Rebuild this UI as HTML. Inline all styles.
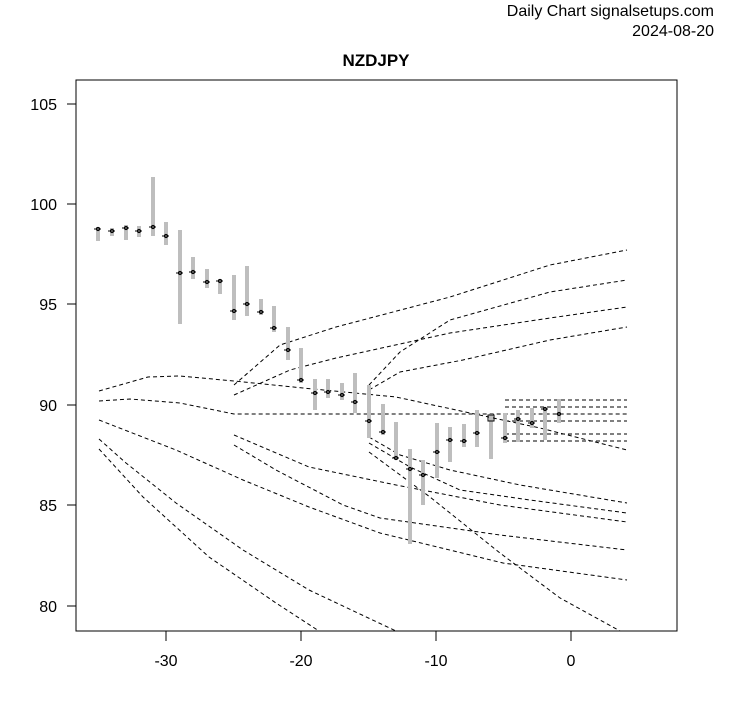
<!DOCTYPE html>
<html><head><meta charset="utf-8"><style>
html,body{margin:0;padding:0;background:#fff;}
svg{display:block;font-family:"Liberation Sans",Arial,sans-serif;}
</style></head><body>
<svg width="753" height="708" viewBox="0 0 753 708" xmlns="http://www.w3.org/2000/svg">
<rect width="753" height="708" fill="#fff"/>
<text x="714" y="16" font-size="16" text-anchor="end">Daily Chart signalsetups.com</text>
<text x="714" y="36" font-size="16" text-anchor="end">2024-08-20</text>
<text x="376" y="66" font-size="17" font-weight="bold" text-anchor="middle">NZDJPY</text>
<g fill="none" stroke="#000" stroke-width="1" stroke-dasharray="4,3">
<polyline points="99,391 148,377 180,376 234,381 303,388 396,397 470,413 540,428 627,450"/>
<polyline points="99,401 130,399 180,403 234,414 627,414"/>
<polyline points="99,420 176,450 243,480 309,507 380,533 503,563 627,580"/>
<polyline points="99,439 126,463 176,503 243,550 309,590 396,631"/>
<polyline points="99,449 143,497 209,557 276,603 319,631"/>
<polyline points="234,435 309,467 396,485 500,505 627,522"/>
<polyline points="234,445 276,470 343,505 380,518 500,535 627,550"/>
<polyline points="234,385 280,345 336,327 450,297 550,265 627,250"/>
<polyline points="234,395 290,370 336,358 450,333 550,318 627,307"/>
<polyline points="369,385 400,352 450,320 550,292 627,280"/>
<polyline points="369,390 400,372 463,360 550,340 627,327"/>
<polyline points="369,437 400,455 450,470 520,485 627,503"/>
<polyline points="369,443 410,467 460,490 530,500 627,513"/>
<polyline points="369,452 430,497 500,553 560,598 620,631"/>
<line x1="505" y1="400" x2="627" y2="400"/>
<line x1="505" y1="407" x2="627" y2="407"/>
<line x1="505" y1="421" x2="627" y2="421"/>
<line x1="505" y1="434" x2="627" y2="434"/>
<line x1="505" y1="441" x2="627" y2="441"/>
</g>
<g stroke="#bebebe" stroke-width="4">
<line x1="98" y1="227" x2="98" y2="241"/><line x1="112" y1="228" x2="112" y2="236"/>
<line x1="126" y1="225" x2="126" y2="240"/><line x1="139" y1="226" x2="139" y2="237"/>
<line x1="153" y1="177" x2="153" y2="236"/><line x1="166" y1="222" x2="166" y2="245"/>
<line x1="180" y1="230" x2="180" y2="324"/><line x1="193" y1="257" x2="193" y2="279"/>
<line x1="207" y1="269" x2="207" y2="288"/><line x1="220" y1="279" x2="220" y2="294"/>
<line x1="234" y1="275" x2="234" y2="320"/><line x1="247" y1="266" x2="247" y2="316"/>
<line x1="261" y1="299" x2="261" y2="315"/><line x1="274" y1="306" x2="274" y2="332"/>
<line x1="288" y1="327" x2="288" y2="360"/><line x1="301" y1="348" x2="301" y2="383"/>
<line x1="315" y1="379" x2="315" y2="410"/><line x1="328" y1="379" x2="328" y2="398"/>
<line x1="342" y1="383" x2="342" y2="400"/><line x1="355" y1="373" x2="355" y2="413"/>
<line x1="369" y1="385" x2="369" y2="438"/><line x1="383" y1="404" x2="383" y2="435"/>
<line x1="396" y1="422" x2="396" y2="460"/><line x1="410" y1="449" x2="410" y2="544"/>
<line x1="423" y1="460" x2="423" y2="505"/><line x1="437" y1="423" x2="437" y2="478"/>
<line x1="450" y1="427" x2="450" y2="462"/><line x1="464" y1="424" x2="464" y2="447"/>
<line x1="477" y1="410" x2="477" y2="447"/><line x1="491" y1="414" x2="491" y2="459"/>
<line x1="505" y1="413" x2="505" y2="443"/><line x1="518" y1="410" x2="518" y2="442"/>
<line x1="532" y1="408" x2="532" y2="428"/><line x1="545" y1="408" x2="545" y2="440"/>
<line x1="559" y1="399" x2="559" y2="423"/>
</g>
<g fill="none" stroke="#000" stroke-width="1">
<path d="M94,229h7M108,231h7M122,228h7M135,231h7M149,227h7M162,236h7M176,273h7M189,272h7M203,282h7M216,281h7M230,311h7M243,304h7M257,312h7M270,328h7M284,350h7M297,380h7M311,393h7M324,392h7M338,395h7M351,402h7M365,421h7M379,432h7M392,458h7M406,469h7M419,475h7M433,452h7M446,440h7M460,441h7M473,433h7M501,438h7M514,419h7M528,423h7M541,409h7M555,414h7"/>
<g stroke-width="1">
<circle cx="98" cy="229" r="1.6"/><circle cx="112" cy="231" r="1.6"/><circle cx="126" cy="228" r="1.6"/><circle cx="139" cy="231" r="1.6"/><circle cx="153" cy="227" r="1.6"/><circle cx="166" cy="236" r="1.6"/><circle cx="180" cy="273" r="1.6"/><circle cx="193" cy="272" r="1.6"/><circle cx="207" cy="282" r="1.6"/><circle cx="220" cy="281" r="1.6"/><circle cx="234" cy="311" r="1.6"/><circle cx="247" cy="304" r="1.6"/><circle cx="261" cy="312" r="1.6"/><circle cx="274" cy="328" r="1.6"/><circle cx="288" cy="350" r="1.6"/><circle cx="301" cy="380" r="1.6"/><circle cx="315" cy="393" r="1.6"/><circle cx="328" cy="392" r="1.6"/><circle cx="342" cy="395" r="1.6"/><circle cx="355" cy="402" r="1.6"/><circle cx="369" cy="421" r="1.6"/><circle cx="383" cy="432" r="1.6"/><circle cx="396" cy="458" r="1.6"/><circle cx="410" cy="469" r="1.6"/><circle cx="423" cy="475" r="1.6"/><circle cx="437" cy="452" r="1.6"/><circle cx="450" cy="440" r="1.6"/><circle cx="464" cy="441" r="1.6"/><circle cx="477" cy="433" r="1.6"/><rect x="488" y="415" width="6" height="6"/><circle cx="505" cy="438" r="1.6"/><circle cx="518" cy="419" r="1.6"/><circle cx="532" cy="423" r="1.6"/><circle cx="545" cy="409" r="1.6"/><circle cx="559" cy="414" r="1.6"/>
</g>
</g>
<rect x="76" y="80" width="601" height="551" fill="none" stroke="#000" stroke-width="1"/>
<g stroke="#000" stroke-width="1">
<line x1="67" y1="606" x2="76" y2="606"/><line x1="67" y1="505" x2="76" y2="505"/>
<line x1="67" y1="405" x2="76" y2="405"/><line x1="67" y1="304" x2="76" y2="304"/>
<line x1="67" y1="204" x2="76" y2="204"/><line x1="67" y1="104" x2="76" y2="104"/>
<line x1="166" y1="631" x2="166" y2="641"/><line x1="301" y1="631" x2="301" y2="641"/>
<line x1="436" y1="631" x2="436" y2="641"/><line x1="571" y1="631" x2="571" y2="641"/>
</g>
<g font-size="16" text-anchor="end">
<text x="57" y="612">80</text><text x="57" y="511">85</text><text x="57" y="411">90</text>
<text x="57" y="310">95</text><text x="57" y="210">100</text><text x="57" y="110">105</text>
</g>
<g font-size="16" text-anchor="middle">
<text x="166" y="666">-30</text><text x="301" y="666">-20</text><text x="436" y="666">-10</text><text x="571" y="666">0</text>
</g>
</svg>
</body></html>
